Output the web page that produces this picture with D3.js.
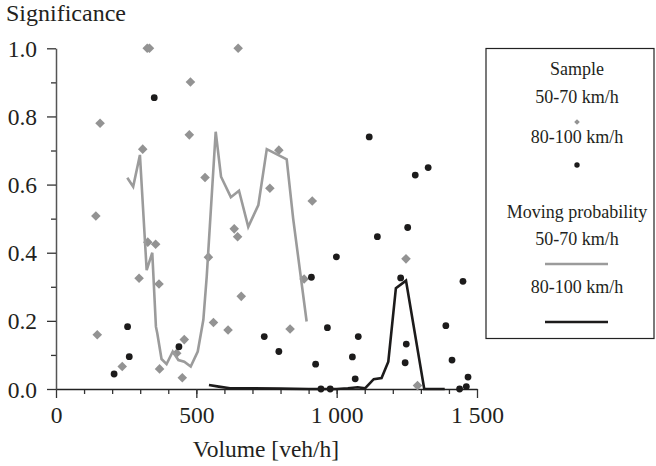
<!DOCTYPE html>
<html>
<head>
<meta charset="utf-8">
<script src="https://cdn.jsdelivr.net/npm/d3@7"></script>
<style>
  body { margin: 0; background: #fff; }
  svg text { font-family: "Liberation Serif", "Times New Roman", serif; fill: #231f20; }
</style>
</head>
<body>
<svg id="chart" width="656" height="466"></svg>
<script>
// sample points, [volume, significance]
const sample5070 = [
  [325, 1.0], [333, 1.0], [649, 1.0], [479, 0.901], [157, 0.780], [475, 0.746],
  [309, 0.704], [531, 0.621], [142, 0.508], [794, 0.701], [762, 0.589], [913, 0.552],
  [327, 0.431], [355, 0.425], [296, 0.325], [367, 0.308], [543, 0.387], [635, 0.470],
  [647, 0.447], [660, 0.272], [561, 0.195], [613, 0.173], [147, 0.159], [457, 0.145],
  [430, 0.105], [236, 0.066], [369, 0.059], [450, 0.033], [884, 0.323], [834, 0.176],
  [1247, 0.382], [1288, 0.010]
]
const sample80100 = [
  [350, 0.855], [1116, 0.740], [1326, 0.650], [1280, 0.628], [255, 0.183], [438, 0.124],
  [261, 0.095], [207, 0.044], [742, 0.154], [1253, 0.474], [1145, 0.447], [999, 0.388],
  [910, 0.328], [1228, 0.326], [1450, 0.316], [1389, 0.186], [967, 0.180], [1077, 0.154],
  [794, 0.110], [1248, 0.132], [925, 0.073], [1056, 0.094], [1244, 0.077], [1411, 0.085],
  [1066, 0.030], [1468, 0.035], [944, 0.0], [977, 0.0], [1438, 0.0], [1462, 0.007]
]
// moving probability lines
const moving5070 = [
  [254, 0.620], [275, 0.594], [299, 0.687], [323, 0.349], [343, 0.400], [356, 0.183],
  [361, 0.163], [376, 0.088], [394, 0.073], [416, 0.110], [436, 0.085], [457, 0.080],
  [480, 0.066], [505, 0.110], [525, 0.203], [537, 0.330], [569, 0.755], [588, 0.623],
  [623, 0.563], [652, 0.582], [685, 0.476], [721, 0.540], [751, 0.704], [822, 0.674],
  [845, 0.500], [893, 0.198]
]
const moving80100 = [
  [545, 0.012], [580, 0.007], [620, 0.002], [700, 0.002], [800, 0.001], [900, 0.0],
  [1000, 0.0], [1040, 0.002], [1075, 0.005], [1101, 0.002], [1132, 0.029], [1160, 0.032],
  [1184, 0.080], [1211, 0.296], [1247, 0.318], [1312, 0.0], [1385, 0.0]
]
const xMajor = [0, 500, 1000, 1500]
const xLabels = ["0", "500", "1 000", "1 500"]
const yMajor = [0, 0.2, 0.4, 0.6, 0.8, 1.0]
const yLabels = ["0.0", "0.2", "0.4", "0.6", "0.8", "1.0"]

const gray = "#939393"
const black = "#1c1b1b"

const svg = d3.select("#chart")

const x = d3.scaleLinear().domain([0, 1500]).range([56, 477])
const y = d3.scaleLinear().domain([0, 1]).range([389, 48.3])

// minor ticks
svg.append("g")
  .attr("transform", "translate(0,389)")
  .call(d3.axisBottom(x).tickValues(d3.range(100, 1500, 100)).tickSize(5).tickFormat("").tickSizeOuter(0))
  .call(g => g.select(".domain").remove())
svg.append("g")
  .attr("transform", "translate(56,0)")
  .call(d3.axisLeft(y).tickValues(d3.range(0.1, 1, 0.2)).tickSize(5).tickFormat("").tickSizeOuter(0))
  .call(g => g.select(".domain").remove())

// major ticks + labels
const xAxis = svg.append("g")
  .attr("transform", "translate(0,389)")
  .call(d3.axisBottom(x).tickValues(xMajor).tickSize(9).tickPadding(8)
    .tickFormat((d, i) => xLabels[i]).tickSizeOuter(0))
xAxis.selectAll("text").style("font-size", "23.5px")

const yAxis = svg.append("g")
  .attr("transform", "translate(56,0)")
  .call(d3.axisLeft(y).tickValues(yMajor).tickSize(9).tickPadding(10)
    .tickFormat((d, i) => yLabels[i]).tickSizeOuter(0))
yAxis.selectAll("text").style("font-size", "23.5px").attr("dy", "0.34em")

svg.selectAll(".tick line").attr("stroke", "#333").attr("stroke-width", 1.3)
xAxis.select(".domain").attr("stroke", "#222").attr("stroke-width", 1.5)
yAxis.select(".domain").attr("stroke", "#555").attr("stroke-width", 1.5)

// axis titles
svg.append("text").attr("x", 6).attr("y", 21).style("font-size", "24px").text("Significance")
svg.append("text").attr("x", 266).attr("y", 457).attr("text-anchor", "middle")
  .style("font-size", "23.5px").text("Volume [veh/h]")

// sample points
const diamond = d3.symbol().type(d3.symbolSquare).size(46)
svg.append("g").selectAll("path")
  .data(sample5070)
  .enter()
  .append("path")
  .attr("d", diamond)
  .attr("transform", d => `translate(${x(d[0])},${y(d[1])}) rotate(45)`)
  .attr("fill", gray)

svg.append("g").selectAll("circle")
  .data(sample80100)
  .enter()
  .append("circle")
  .attr("cx", d => x(d[0]))
  .attr("cy", d => y(d[1]))
  .attr("r", 3.4)
  .attr("fill", black)

// moving probability lines
const line = d3.line().x(d => x(d[0])).y(d => y(d[1]))
svg.append("path").datum(moving5070)
  .attr("d", line).attr("fill", "none").attr("stroke", "#9b9b9b").attr("stroke-width", 2.6)
svg.append("path").datum(moving80100)
  .attr("d", line).attr("fill", "none").attr("stroke", black).attr("stroke-width", 2.6)

// legend
const lg = svg.append("g")
lg.append("rect").attr("x", 486).attr("y", 48.5).attr("width", 168).attr("height", 290)
  .attr("fill", "none").attr("stroke", "#222").attr("stroke-width", 1.2)

const cx = 577
const legendText = [
  ["Sample", 75], ["50-70 km/h", 103], ["80-100 km/h", 143],
  ["Moving probability", 218], ["50-70 km/h", 245], ["80-100 km/h", 293]
]
lg.selectAll("text")
  .data(legendText)
  .enter()
  .append("text")
  .attr("x", cx)
  .attr("y", d => d[1])
  .attr("text-anchor", "middle")
  .style("font-size", "18px")
  .text(d => d[0])

lg.append("path").attr("d", d3.symbol().type(d3.symbolSquare).size(16))
  .attr("transform", `translate(${cx},122) rotate(45)`).attr("fill", gray)
lg.append("circle").attr("cx", cx).attr("cy", 165).attr("r", 2.7).attr("fill", black)
lg.append("line").attr("x1", 545).attr("x2", 608).attr("y1", 264).attr("y2", 264)
  .attr("stroke", "#9b9b9b").attr("stroke-width", 2.6)
lg.append("line").attr("x1", 545).attr("x2", 608).attr("y1", 322).attr("y2", 322)
  .attr("stroke", black).attr("stroke-width", 2.6)
</script>
</body>
</html>
